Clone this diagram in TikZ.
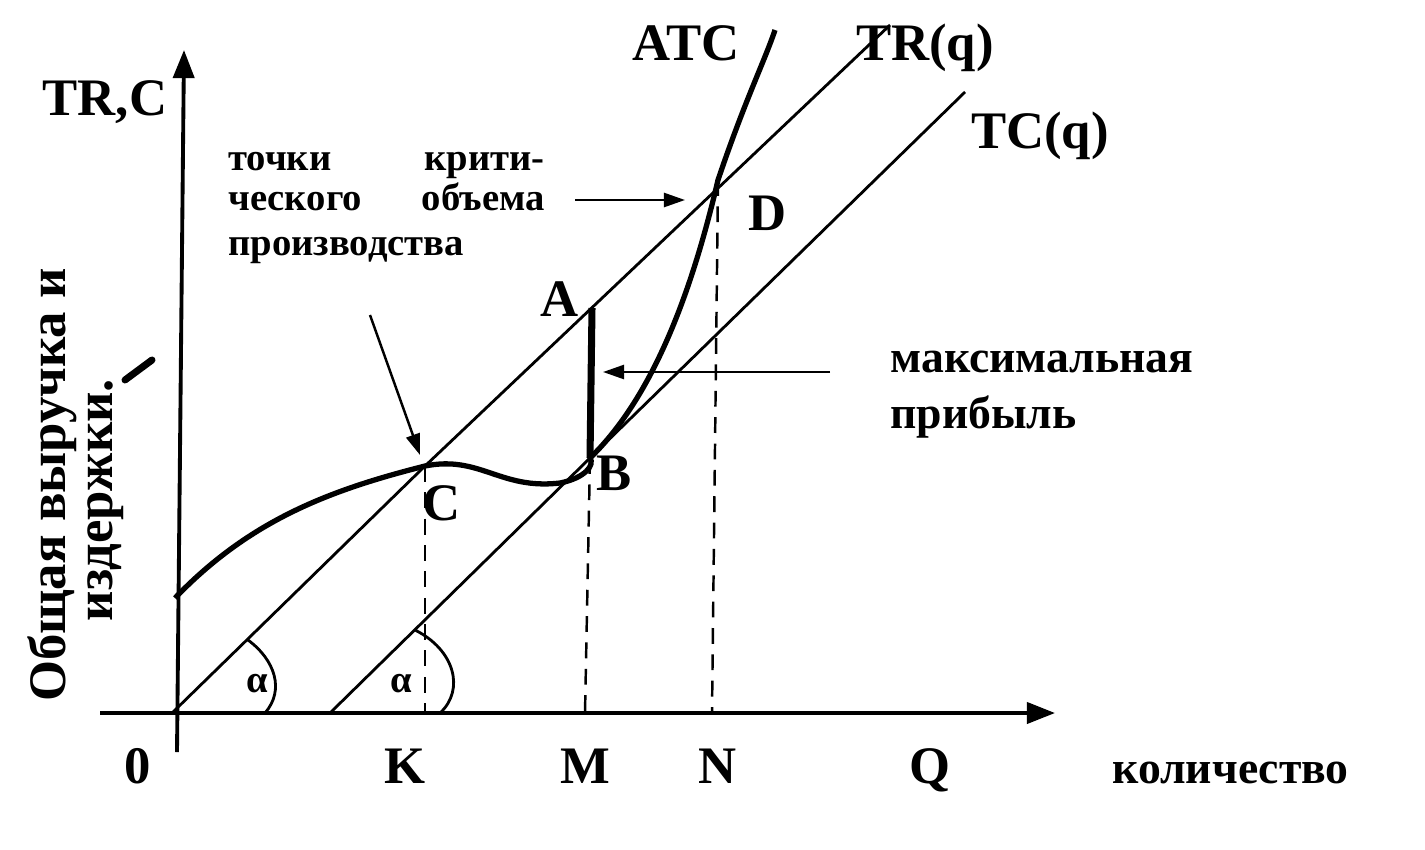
\documentclass[tikz,border=0pt]{standalone}
\usepackage{fontspec}
\setmainfont{Liberation Serif}
\usetikzlibrary{arrows.meta}
\begin{document}
\begin{tikzpicture}[x=0.02cm,y=-0.02cm,
  lbl/.style={font=\bfseries\fontsize{26}{28}\selectfont,inner sep=0pt},
  big/.style={font=\bfseries\fontsize{30}{34}\selectfont,inner sep=0pt,anchor=base},
  small/.style={font=\bfseries\fontsize{22}{26}\selectfont,inner sep=0pt},
  ax/.style={line width=2.2pt,-{Triangle[length=16pt,width=12pt]}},
  ln/.style={line width=1.6pt},
  dsh/.style={line width=1.4pt,dash pattern=on 9pt off 6pt},
  arr/.style={line width=1.4pt,-{Triangle[length=12pt,width=8pt]}}]
\useasboundingbox (0,0) rectangle (1425,849);
% axes
\coordinate (ybot) at (177,752);
\coordinate (ytop) at (184,50);
\coordinate (xl) at (100,713);
\coordinate (xr) at (1055,713);
\draw[ax] (ybot) -- (ytop);
\draw[ax] (xl) -- (xr);
% points
\coordinate (O) at (172,713);
\coordinate (Cp) at (425,466);
\coordinate (Bp) at (590,458);
\coordinate (Ap) at (592,308);
\coordinate (Dp) at (718,180);
\coordinate (trend) at (890,25);
\coordinate (tcs) at (330,713);
\coordinate (tcend) at (965,92);
\coordinate (Kb) at (425,713);
\coordinate (Mb) at (585,713);
\coordinate (Nb) at (712,713);
% lines
\draw[ln] (O) -- (Cp) -- (trend);
\draw[ln] (tcs) -- (Bp) -- (tcend);
% ATC curve
\draw[line width=3pt] (175,598) .. controls (250,520) and (330,490) .. (Cp)
  .. controls (480,455) and (500,490) .. (560,483)
  .. controls (585,478) and (595,465) .. (Bp)
  .. controls (650,400) and (690,300) .. (Dp)
  .. controls (745,100) and (765,60) .. (775,30);
% profit segment
\draw[line width=4pt] (Ap) -- (Bp);
% dashed
\draw[dsh] (Cp) -- (Kb);
\draw[dsh] (Bp) -- (Mb);
\draw[dsh] (Dp) -- (Nb);
% angle arcs
\draw[ln] (265,713) .. controls (285,690) and (275,660) .. (248,640);
\draw[ln] (440,713) .. controls (465,690) and (455,650) .. (415,630);
% arrows
\coordinate (a1s) at (575,200); \coordinate (a1e) at (685,200);
\coordinate (a2s) at (370,315); \coordinate (a2e) at (420,455);
\coordinate (a3s) at (830,372); \coordinate (a3e) at (603,372);
\draw[arr] (a1s) -- (a1e);
\draw[arr] (a2s) -- (a2e);
\draw[arr] (a3s) -- (a3e);
% mark
\draw[line width=4pt,line cap=round] (125,380) -- (152,360);
% labels
\node[big] (tlbl) at (105,115) {TR,C};
\node[big] (atc) at (686,60) {ATC};
\node[big] (trq) at (925,60) {TR(q)};
\node[big] (tcq) at (1040,148) {TC(q)};
\node[big] (D) at (768,230) {D};
\node[big] (A) at (560,316) {A};
\node[big] (B) at (614,490) {B};
\node[big] (C) at (442,520) {C};
\node[big] (o) at (138,783) {0};
\node[big] (K) at (405,783) {K};
\node[big] (M) at (585,783) {M};
\node[big] (N) at (718,783) {N};
\node[big] (Q) at (930,783) {Q};
\node[lbl,anchor=base west] (kol) at (1112,783) {количество};
\node[lbl,anchor=base west] (max1) at (890,372) {максимальная};
\node[lbl,anchor=base west] (max2) at (890,428) {прибыль};
\node[small,anchor=base west] (t1) at (228,170) {точки};
\node[small,anchor=base east] (t2) at (545,170) {крити-};
\node[small,anchor=base west] (t3) at (228,210) {ческого};
\node[small,anchor=base east] (t4) at (545,210) {объема};
\node[small,anchor=base west] (t5) at (228,255) {производства};
\node[big,rotate=90,anchor=center] (yl1) at (52,485) {Общая выручка и};
\node[big,rotate=90,anchor=center] (yl2) at (106,500) {издержки.};
\node[small,anchor=base] (al1) at (257,692) {α};
\node[small,anchor=base] (al2) at (401,692) {α};
\end{tikzpicture}
\end{document}
